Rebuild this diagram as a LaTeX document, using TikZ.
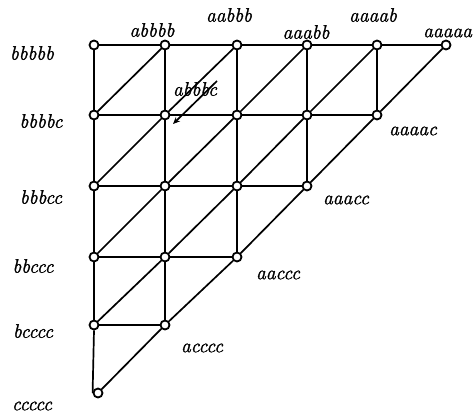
\documentclass[tikz,border=0pt]{standalone}
\usepackage{fontspec}
\newfontfamily\labfont[ItalicFeatures={FakeBold=1.5}]{Latin Modern Roman}
\usetikzlibrary{arrows.meta}
\begin{document}
\begin{tikzpicture}[x=1pt,y=-1pt,
  vert/.style={circle,draw,line width=1.8pt,fill=white,inner sep=0pt,minimum size=9pt},
  edge/.style={line width=1.7pt},
  lab/.style={font=\labfont\fontsize{19.5}{22}\selectfont\itshape,inner sep=0pt}]
\useasboundingbox (0,0) rectangle (476,414);
\def\cx{{94,165,237,307,377,446}}
\def\ry{{45,115,186,257,325,393}}
% vertices
\foreach \r in {0,...,5}{
  \pgfmathtruncatemacro\kmax{5-\r}
  \foreach \k in {0,...,\kmax}{
    \pgfmathsetmacro\xx{\cx[\k]}
    \pgfmathsetmacro\yy{\ry[\r]}
    \ifnum\r=5
      \node[vert] (v\r\k) at (98,393) {};
    \else
      \node[vert] (v\r\k) at (\xx,\yy) {};
    \fi
  }
}
% edges
\foreach \r in {0,...,4}{
  \pgfmathtruncatemacro\kmax{4-\r}
  \foreach \k in {0,...,\kmax}{
    \pgfmathtruncatemacro\kn{\k+1}
    \pgfmathtruncatemacro\rn{\r+1}
    \draw[edge] (v\r\k) -- (v\r\kn);
    \ifnum\r=4
      \draw[edge] (v\r\k.south) -- (v\rn\k.west);
    \else
      \draw[edge] (v\r\k) -- (v\rn\k);
    \fi
    \draw[edge] (v\r\kn) -- (v\rn\k);
  }
}
% labels
\node[lab] (lbbbbb) at (32,53) {bbbbb};
\node[lab] (labbbb) at (152,30) {abbbb};
\node[lab] (laabbb) at (229,15) {aabbb};
\node[lab] (laaabb) at (306,32) {aaabb};
\node[lab] (laaaab) at (373,15) {aaaab};
\node[lab,anchor=west] (laaaaa) at (423,33) {aaaaa};
\node[lab] (labbbc) at (195,89) {abbbc};
\node[lab] (lbbbbc) at (41,121) {bbbbc};
\node[lab] (laaaac) at (413,131) {aaaac};
\node[lab] (lbbbcc) at (41,197) {bbbcc};
\node[lab] (laaacc) at (346,200) {aaacc};
\node[lab] (lbbccc) at (33,266) {bbccc};
\node[lab] (laaccc) at (278,275) {aaccc};
\node[lab] (lbcccc) at (33,331) {bcccc};
\node[lab] (lacccc) at (202,348) {acccc};
\node[lab] (lccccc) at (32,406) {ccccc};
% pointer arrow
\coordinate (ptail) at (217,81);
\coordinate (phead) at (173,124);
\draw[edge,-{Stealth[length=7pt,width=6pt]}] (ptail) -- (phead);
\end{tikzpicture}
\end{document}
